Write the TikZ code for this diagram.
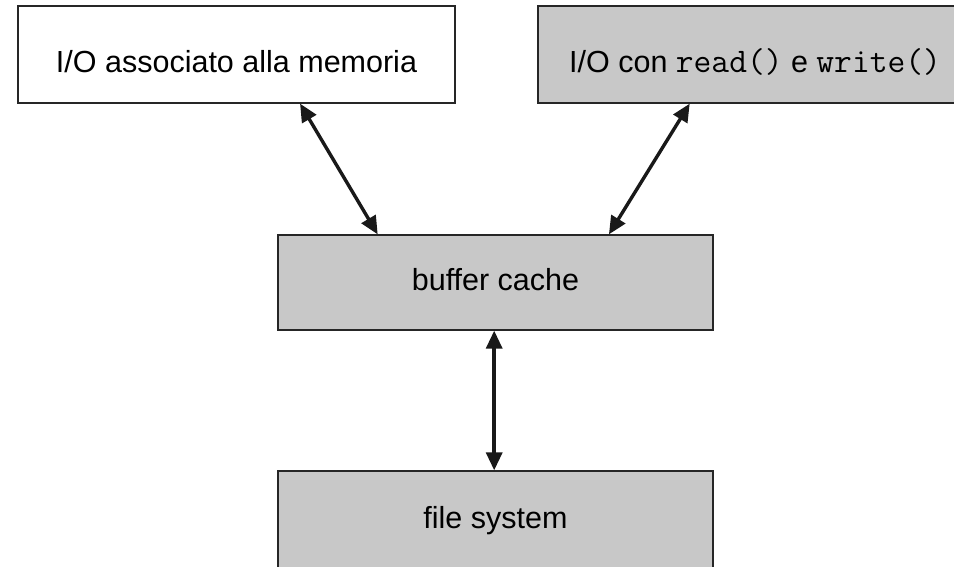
\documentclass[tikz,border=0pt]{standalone}
\usepackage{fontspec}
\setmainfont{Liberation Sans}
\usetikzlibrary{arrows.meta,calc}
\definecolor{boxgray}{RGB}{200,200,200}
\newcommand{\codetxt}[1]{{\fontsize{34.5}{36}\ttfamily #1}}
\begin{document}
\begin{tikzpicture}[x=1pt,y=-1pt,
  box/.style={draw=black!85, line width=1.3pt, inner sep=0pt, anchor=center,
    font=\fontsize{30.5}{36}\selectfont},
  graybox/.style={box, fill=boxgray},
  arr/.style={{Triangle[length=18pt,width=16pt]}-{Triangle[length=18pt,width=16pt]}, line width=3.4pt, black!90}
]
\useasboundingbox (0,0) rectangle (954,566);
\clip (0,0) rectangle (954,566);
\fill[white] (0,0) rectangle (954,566);

\node[box, fill=white, minimum width=437pt, minimum height=97pt, text height=35pt, text depth=0pt] (mem) at (236.5,54.5) {I/O associato alla memoria};
\node[graybox, minimum width=434pt, minimum height=97pt, text height=35pt, text depth=0pt] (rw) at (755,54.5) {I/O con \codetxt{read()} e \codetxt{write()}};
\node[graybox, minimum width=435pt, minimum height=95pt, text height=22pt, text depth=7pt] (bc) at (495.5,282.5) {buffer cache};
\node[graybox, minimum width=435pt, minimum height=100pt] (fs) at (495.5,521) {file system};

\draw[arr] ($(mem.south west)!0.645!(mem.south east)$) -- ($(bc.north west)!0.23!(bc.north east)$);
\draw[arr] ($(rw.south west)!0.35!(rw.south east)$) -- ($(bc.north west)!0.76!(bc.north east)$);
\draw[arr] ($(bc.south west)!0.497!(bc.south east)$) -- ($(fs.north west)!0.497!(fs.north east)$);
\end{tikzpicture}
\end{document}
